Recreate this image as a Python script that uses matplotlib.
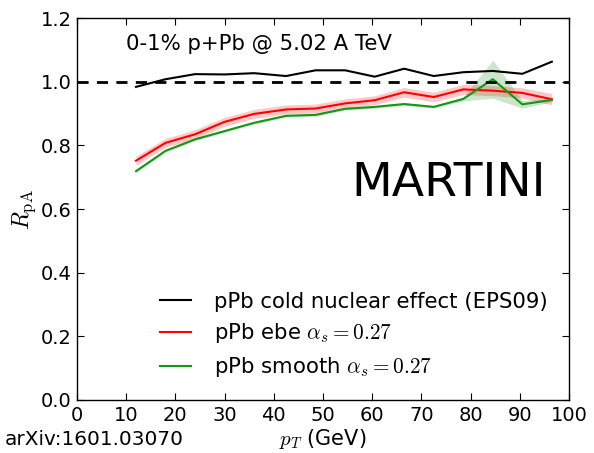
import numpy as np
import matplotlib
matplotlib.use("Agg")
from matplotlib import pyplot as plt

plt.rcParams['mathtext.fontset'] = 'cm'
plt.rcParams['font.family'] = 'DejaVu Sans'

# pT bin centres (GeV)
pt = [12, 18, 24, 30, 36, 42.5, 48.5, 54.5, 60.5, 66.5, 72.5, 78.5, 84.5, 90.5, 96.5]

# cold nuclear effect only (EPS09)
r_cold = [0.984, 1.008, 1.024, 1.023, 1.027, 1.018, 1.036, 1.036, 1.016, 1.041,
          1.018, 1.030, 1.034, 1.025, 1.063]

# event-by-event, alpha_s = 0.27
r_ebe = [0.752, 0.808, 0.835, 0.874, 0.899, 0.913, 0.916, 0.932, 0.942, 0.967,
         0.952, 0.976, 0.972, 0.965, 0.945]
err_ebe = [0.014, 0.014, 0.014, 0.014, 0.014, 0.014, 0.014, 0.014, 0.014, 0.015,
           0.015, 0.016, 0.016, 0.016, 0.018]

# smooth initial conditions, alpha_s = 0.27
r_smooth = [0.719, 0.783, 0.819, 0.845, 0.871, 0.893, 0.896, 0.915, 0.921, 0.930,
            0.921, 0.946, 1.008, 0.929, 0.943]
err_smooth = [0.004, 0.004, 0.004, 0.004, 0.004, 0.004, 0.004, 0.004, 0.004, 0.004,
              0.004, 0.006, 0.06, 0.012, 0.006]

fig = plt.figure(figsize=(5.94, 4.53), dpi=100)
ax = fig.add_axes([0.1296, 0.117, 0.8284, 0.843])

pt_a = np.array(pt)
ebe = np.array(r_ebe)
smooth = np.array(r_smooth)

ax.fill_between(pt_a, ebe - np.array(err_ebe), ebe + np.array(err_ebe),
                color='red', alpha=0.22, linewidth=0)
ax.fill_between(pt_a, smooth - np.array(err_smooth), smooth + np.array(err_smooth),
                color='green', alpha=0.2, linewidth=0)

ax.plot(pt, r_cold, color='black', lw=1.5, label='pPb cold nuclear effect (EPS09)')
ax.plot(pt, r_ebe, color='red', lw=1.5, label=r'pPb ebe $\alpha_s=0.27$')
ax.plot(pt, r_smooth, color='#119911', lw=1.5, label=r'pPb smooth $\alpha_s=0.27$')

ax.axhline(1.0, color='black', lw=2, ls='--', dashes=(4, 3))

ax.set_xlim(0, 100)
ax.set_ylim(0, 1.2)
ax.set_xticks(np.arange(0, 101, 10))
ax.set_yticks(np.arange(0, 1.21, 0.2))
ax.set_yticklabels(['0.0', '0.2', '0.4', '0.6', '0.8', '1.0', '1.2'])
ax.tick_params(direction='in', top=True, right=True, labelsize=14, length=5, pad=4)
for s in ax.spines.values():
    s.set_linewidth(1.0)

ax.set_xlabel(r'$p_T$ (GeV)', fontsize=15, labelpad=2)
ax.set_ylabel(r'$R_{\rm pA}$', fontsize=17, labelpad=2)

ax.text(10, 1.10, '0-1% p+Pb @ 5.02 A TeV', fontsize=15.3)
ax.text(55.8, 0.64, 'MARTINI', fontsize=34)
fig.text(0.008, 0.018, 'arXiv:1601.03070', fontsize=14.4)

ax.legend(loc='lower left', bbox_to_anchor=(0.169, 0.055), frameon=False,
          borderaxespad=0, borderpad=0, fontsize=15.3, handlelength=1.45,
          handletextpad=1.1, labelspacing=0.45)

fig.savefig('out.png', dpi=100)
